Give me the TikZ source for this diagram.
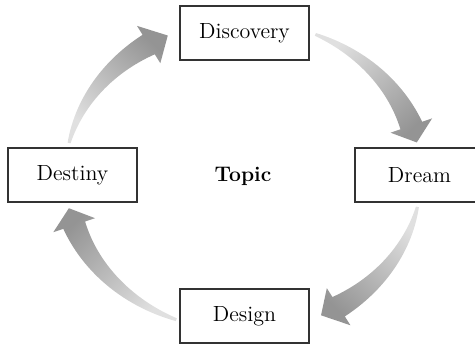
\documentclass[tikz,border=0pt]{standalone}
\usepackage{tikz}
\usetikzlibrary{calc, positioning}
\tikzset{
    stage/.style = {rectangle, draw=black!80, line width=0.8pt, minimum width=2.58cm, minimum height=1.08cm, font=\fontsize{12.5}{15}\selectfont}, % the four boxes on the cycle
    topic/.style = {font=\fontsize{12}{14}\selectfont\bfseries},
    arrowshade/.style = {bottom color=black!12, top color=black!42, draw=none}
}
% tapered arrow along the ellipse: tail angle, head angle, tip angle, shading angle
\newcommand\cyclearrow[4]{%
    \shade[arrowshade, shading angle=#4]
        plot[domain=#1:#2, samples=30] ({(178+1.5+10*(#1-\x)/(#1-(#2)))*cos(\x)}, {(155+1.5+10*(#1-\x)/(#1-(#2)))*sin(\x)})
        -- ({200*cos(#2)}, {177*sin(#2)})
        -- ({178*cos(#3)}, {155*sin(#3)})
        -- ({156*cos(#2)}, {133*sin(#2)})
        -- plot[domain=#2:#1, samples=30] ({(178-1.5-10*(#1-\x)/(#1-(#2)))*cos(\x)}, {(155-1.5-10*(#1-\x)/(#1-(#2)))*sin(\x)})
        -- cycle;
}

\begin{document}
\begin{tikzpicture}[x=0.02cm, y=0.02cm]
        \useasboundingbox (-243,-168) rectangle (232,176);
        \clip (-243,-168) rectangle (232,176);
        
        %nodes
        
        \node[topic] (topic) at (0,0) {Topic};
        \node[stage] (discovery) at ($(topic)+(1.5,143)$) {Discovery};
        \node[stage] (dream) at ($(topic)+(176.5,1)$) {Dream};
        \node[stage] (design) at ($(topic)+(1.5,-140)$) {Design};
        \node[stage] (destiny) at ($(topic)+(-170.5,1)$) {Destiny};
        
        %arrows
        
        \cyclearrow{167.7}{122}{115}{-43}
        \cyclearrow{66}{19}{12.5}{-137}
        \cyclearrow{-11.5}{-57.5}{-64}{138}
        \cyclearrow{-112}{-161.5}{-168}{44}
    \end{tikzpicture}
\end{document}
